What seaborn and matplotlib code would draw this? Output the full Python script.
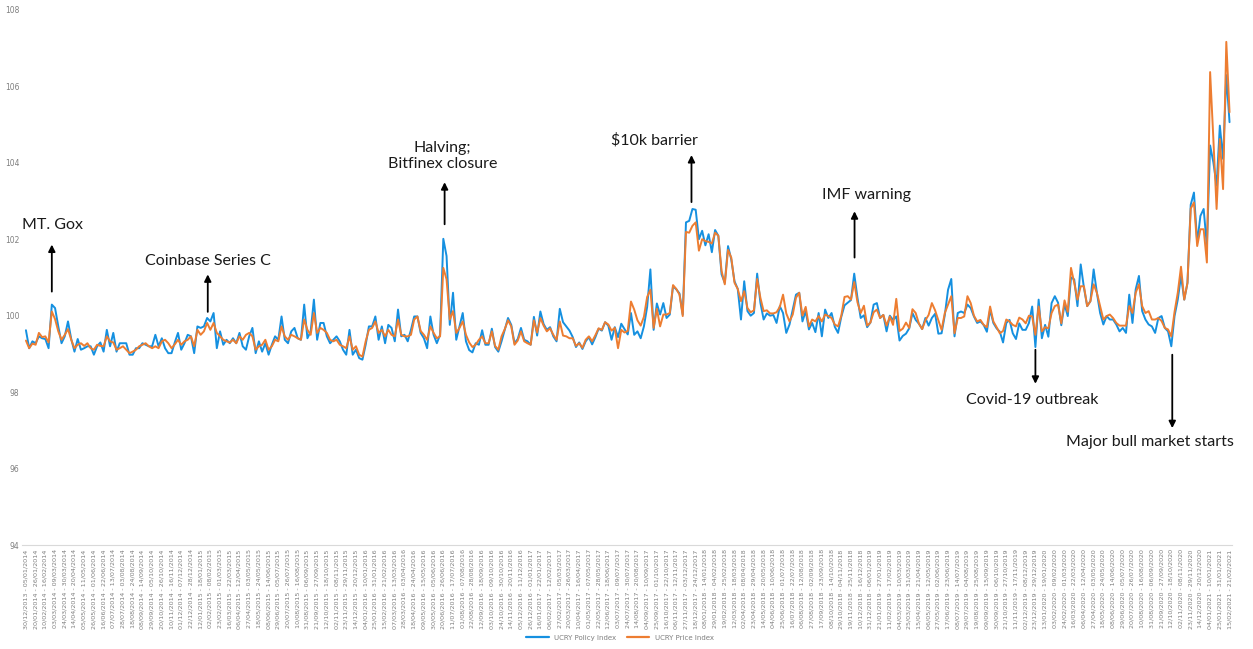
import pandas as pd
import matplotlib.pyplot as plt
import seaborn as sns

# --- Data: weekly UCRY indices, weeks starting Monday 30/12/2013 ---
FIRST_WEEK = "2013-12-30"

policy_index = [
    99.62, 99.15, 99.33, 99.28, 99.46, 99.41, 99.39, 99.15, 100.29, 100.2,
    99.72, 99.28, 99.46, 99.85, 99.39, 99.06, 99.39, 99.11, 99.15, 99.2,
    99.2, 98.98, 99.2, 99.3, 99.06, 99.63, 99.2, 99.55, 99.06, 99.28,
    99.28, 99.28, 98.98, 98.98, 99.15, 99.15, 99.28, 99.24, 99.2, 99.2,
    99.5, 99.2, 99.41, 99.15, 99.02, 99.02, 99.3, 99.55, 99.11, 99.28,
    99.5, 99.46, 99.02, 99.72, 99.68, 99.72, 99.94, 99.85, 100.07, 99.15,
    99.59, 99.24, 99.37, 99.28, 99.41, 99.28, 99.55, 99.2, 99.11, 99.46,
    99.68, 99.02, 99.33, 99.06, 99.28, 98.98, 99.24, 99.46, 99.37, 99.98,
    99.37, 99.28, 99.59, 99.68, 99.41, 99.37, 100.29, 99.41, 99.59, 100.42,
    99.37, 99.81, 99.81, 99.46, 99.28, 99.37, 99.46, 99.33, 99.11, 98.98,
    99.63, 98.98, 99.11, 98.89, 98.85, 99.24, 99.72, 99.72, 99.98, 99.37,
    99.72, 99.28, 99.76, 99.68, 99.33, 100.16, 99.46, 99.5, 99.33, 99.63,
    99.98, 99.98, 99.55, 99.41, 99.15, 99.98, 99.5, 99.28, 99.5, 102.01,
    101.56, 99.76, 100.6, 99.37, 99.72, 100.07, 99.33, 99.1, 99.04, 99.28,
    99.24, 99.62, 99.24, 99.24, 99.66, 99.18, 99.06, 99.33, 99.63, 99.94,
    99.76, 99.28, 99.39, 99.68, 99.37, 99.33, 99.24, 99.97, 99.48, 100.11,
    99.78, 99.63, 99.7, 99.46, 99.33, 100.18, 99.83, 99.72, 99.61, 99.44,
    99.18, 99.3, 99.13, 99.33, 99.44, 99.25, 99.44, 99.66, 99.61, 99.83,
    99.74, 99.37, 99.7, 99.44, 99.79, 99.65, 99.51, 100.07, 99.5, 99.59,
    99.41, 99.72, 100.23, 101.21, 99.63, 100.32, 100.03, 100.33, 99.94, 100.03,
    100.77, 100.69, 100.58, 100.03, 102.44, 102.48, 102.79, 102.77, 102.0, 102.22,
    101.84, 102.13, 101.66, 102.24, 102.09, 101.08, 100.86, 101.82, 101.47, 100.9,
    100.7, 99.9, 100.9, 100.12, 100.0, 100.07, 101.1, 100.34, 99.9, 100.06,
    100.0, 100.02, 99.81, 100.25, 100.07, 99.55, 99.77, 100.16, 100.55, 100.6,
    99.85, 100.12, 99.64, 99.81, 99.57, 100.07, 99.46, 100.16, 99.94, 100.07,
    99.71, 99.55, 99.97, 100.27, 100.34, 100.41, 101.1, 100.47, 99.94, 100.01,
    99.7, 99.82, 100.29, 100.33, 99.94, 100.02, 99.59, 100.0, 99.89, 99.98,
    99.35, 99.47, 99.53, 99.67, 100.07, 99.89, 99.79, 99.65, 99.94, 99.74,
    99.94, 100.05, 99.53, 99.54, 100.02, 100.68, 100.96, 99.46, 100.07, 100.11,
    100.07, 100.29, 100.2, 99.98, 99.81, 99.85, 99.76, 99.58, 100.16, 99.81,
    99.67, 99.58, 99.3, 99.81, 99.89, 99.54, 99.39, 99.8, 99.63, 99.63,
    99.81, 100.24, 99.18, 100.42, 99.41, 99.76, 99.45, 100.33, 100.51, 100.34,
    99.75, 100.3, 99.99, 101.0, 100.95, 100.25, 101.34, 100.73, 100.25, 100.38,
    101.21, 100.6, 100.07, 99.77, 99.99, 99.9, 99.9, 99.77, 99.59, 99.68,
    99.55, 100.55, 99.81, 100.69, 101.04, 100.12, 99.9, 99.77, 99.72, 99.55,
    99.94, 99.99, 99.68, 99.59, 99.2, 99.99, 100.42, 101.04, 100.42, 100.86,
    102.9, 103.22, 101.91, 102.61, 102.79, 101.82, 104.45, 104.01, 103.4, 104.97,
    104.1, 106.29, 105.06,
]

price_index = [
    99.35, 99.15, 99.27, 99.24, 99.55, 99.44, 99.46, 99.3, 100.11, 99.91,
    99.59, 99.37, 99.5, 99.65, 99.37, 99.15, 99.24, 99.28, 99.21, 99.28,
    99.15, 99.11, 99.24, 99.21, 99.2, 99.46, 99.33, 99.3, 99.11, 99.15,
    99.2, 99.11, 99.02, 99.06, 99.11, 99.2, 99.24, 99.28, 99.2, 99.15,
    99.2, 99.15, 99.33, 99.37, 99.28, 99.15, 99.25, 99.37, 99.24, 99.33,
    99.37, 99.46, 99.2, 99.63, 99.5, 99.59, 99.81, 99.63, 99.81, 99.55,
    99.46, 99.37, 99.33, 99.3, 99.37, 99.28, 99.46, 99.37, 99.5, 99.55,
    99.46, 99.11, 99.2, 99.24, 99.37, 99.11, 99.2, 99.37, 99.33, 99.72,
    99.46, 99.37, 99.5, 99.46, 99.41, 99.37, 99.9, 99.63, 99.5, 100.07,
    99.55, 99.68, 99.63, 99.55, 99.37, 99.33, 99.37, 99.24, 99.2, 99.15,
    99.46, 99.11, 99.2, 98.98, 98.93, 99.33, 99.63, 99.68, 99.85, 99.55,
    99.63, 99.46, 99.63, 99.5, 99.46, 99.9, 99.5, 99.46, 99.46, 99.5,
    99.9, 99.98, 99.6, 99.5, 99.37, 99.72, 99.55, 99.41, 99.46, 101.25,
    100.95, 99.9, 100.12, 99.55, 99.68, 99.85, 99.5, 99.3, 99.18, 99.24,
    99.37, 99.46, 99.28, 99.28, 99.59, 99.21, 99.11, 99.46, 99.65, 99.88,
    99.72, 99.24, 99.35, 99.59, 99.33, 99.28, 99.24, 99.88, 99.56, 99.94,
    99.74, 99.59, 99.67, 99.5, 99.37, 99.85, 99.48, 99.46, 99.41, 99.41,
    99.21, 99.28, 99.16, 99.37, 99.46, 99.33, 99.49, 99.67, 99.63, 99.83,
    99.77, 99.61, 99.68, 99.15, 99.63, 99.56, 99.6, 100.37, 100.16, 99.88,
    99.74, 99.97, 100.49, 100.68, 99.68, 100.18, 99.72, 100.03, 100.03, 100.07,
    100.8, 100.7, 100.55, 99.99, 102.19, 102.17, 102.35, 102.44, 101.7, 102.0,
    101.95, 101.93, 101.89, 102.17, 102.09, 101.17, 100.82, 101.72, 101.52, 100.86,
    100.7, 100.38, 100.64, 100.2, 100.09, 100.14, 100.96, 100.47, 100.12, 100.14,
    100.06, 100.06, 100.09, 100.23, 100.55, 100.06, 99.85, 100.03, 100.47, 100.6,
    100.0, 100.23, 99.72, 99.9, 99.85, 99.99, 99.85, 100.03, 99.99, 99.94,
    99.77, 99.72, 100.0, 100.49, 100.51, 100.42, 100.88, 100.35, 100.07, 100.26,
    99.74, 99.82, 100.09, 100.16, 99.94, 100.02, 99.74, 99.98, 99.76, 100.44,
    99.6, 99.66, 99.82, 99.68, 100.17, 100.07, 99.79, 99.65, 99.88, 100.02,
    100.33, 100.14, 99.88, 99.63, 100.07, 100.29, 100.51, 99.54, 99.94, 99.94,
    99.98, 100.51, 100.33, 100.0, 99.85, 99.89, 99.76, 99.7, 100.24, 99.85,
    99.7, 99.54, 99.6, 99.9, 99.85, 99.76, 99.72, 99.95, 99.9, 99.8,
    100.0, 99.98, 99.5, 100.24, 99.59, 99.7, 99.67, 100.07, 100.25, 100.29,
    99.8, 100.4, 100.1, 101.25, 100.86, 100.42, 100.77, 100.77, 100.25, 100.38,
    100.82, 100.6, 100.25, 99.9, 99.99, 100.03, 99.94, 99.81, 99.74, 99.74,
    99.74, 100.25, 100.07, 100.6, 100.82, 100.25, 100.07, 100.12, 99.9, 99.9,
    99.94, 99.86, 99.68, 99.64, 99.46, 100.1, 100.6, 101.28, 100.42, 100.86,
    102.8, 102.96, 101.82, 102.26, 102.26, 101.39, 106.37, 104.62, 102.79, 104.62,
    103.31, 107.16, 105.32,
]

# event annotations: (label, text x, text y, arrow x, arrow tail y, arrow head y)
events = [
    ("MT. Gox", 8.3, 102.36, 8.0, 100.63, 101.86),
    ("Coinbase Series C", 56.2, 101.42, 56.2, 100.10, 101.08),
    ("Halving;\nBitfinex closure", 128.8, 104.17, 129.4, 102.39, 103.49),
    ("$10k barrier", 194.3, 104.59, 205.7, 102.97, 104.20),
    ("IMF warning", 259.8, 103.15, 256.1, 101.52, 102.73),
    ("Covid-19 outbreak", 311.0, 97.80, 312.0, 99.11, 98.22),
    ("Major bull market starts", 347.5, 96.69, 354.3, 98.98, 97.06),
]

COLORS = {"UCRY Policy Index": "#1590e0", "UCRY Price Index": "#ed7d31"}

# --- Build long-form frame ---
n_weeks = min(len(policy_index), len(price_index))
weeks = pd.date_range(FIRST_WEEK, periods=n_weeks, freq="7D")
week_labels = [f"{d:%d/%m/%Y} - {(d + pd.Timedelta(days=6)):%d/%m/%Y}" for d in weeks]

df = pd.DataFrame({
    "week": list(range(n_weeks)) * 2,
    "value": policy_index[:n_weeks] + price_index[:n_weeks],
    "series": ["UCRY Policy Index"] * n_weeks + ["UCRY Price Index"] * n_weeks,
})

# --- Plot ---
sns.set_theme(style="white")
plt.rcParams["font.family"] = ["DejaVu Sans"]

fig = plt.figure(figsize=(12.53, 6.49), dpi=100)
ax = fig.add_axes([0.0176, 0.160, 0.966, 0.825])

sns.lineplot(data=df, x="week", y="value", hue="series", palette=COLORS,
             linewidth=1.4, ax=ax)

ax.set_xlim(-1.2, n_weeks - 0.1)
ax.set_ylim(94, 108)
ax.set_yticks(range(94, 109, 2))
ax.set_xticks(range(0, n_weeks, 3))
ax.set_xticklabels(week_labels[::3], rotation=90, fontsize=4.6, color="#7f7f7f")
ax.tick_params(axis="y", labelsize=5.5, labelcolor="#7f7f7f", length=0, pad=2)
ax.tick_params(axis="x", length=0, pad=3)
ax.set_xlabel("")
ax.set_ylabel("")
for side in ["left", "right", "top"]:
    ax.spines[side].set_visible(False)
ax.spines["bottom"].set_color("#d9d9d9")
ax.spines["bottom"].set_linewidth(0.8)

for label, tx, ty, axx, y0, y1 in events:
    ax.text(tx, ty, label, ha="center", va="center", fontsize=11.5,
            family="Lato", color="#1a1a1a", linespacing=1.15)
    ax.annotate("", xy=(axx, y1), xytext=(axx, y0),
                arrowprops=dict(arrowstyle="-|>", color="black", lw=1.3,
                                mutation_scale=10, shrinkA=0, shrinkB=0))

sns.move_legend(ax, "lower center", bbox_to_anchor=(0.494, -0.19), ncol=2,
                frameon=False, title=None, fontsize=5, handlelength=3.2,
                columnspacing=1.5)
for line in ax.get_legend().get_lines():
    line.set_linewidth(1.6)
for text in ax.get_legend().get_texts():
    text.set_color("#7f7f7f")

fig.savefig("out.png", dpi=100)
